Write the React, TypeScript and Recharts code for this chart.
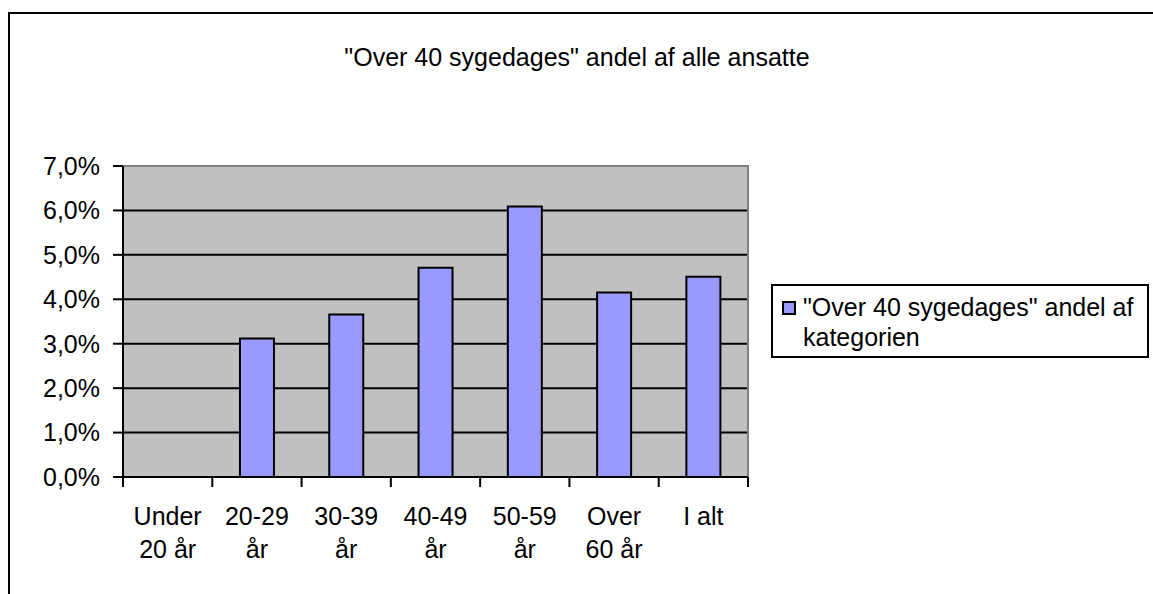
import React from "react";
import { BarChart, Bar, XAxis, YAxis, CartesianGrid, Legend, ReferenceArea } from "recharts";

const TITLE = '"Over 40 sygedages" andel af alle ansatte';
const categories = ["Under\n20 år", "20-29\når", "30-39\når", "40-49\når", "50-59\når", "Over\n60 år", "I alt"];
const seriesName = '"Over 40 sygedages" andel af kategorien';
const legendLines = ['"Over 40 sygedages" andel af', "kategorien"];
const values = [0, 3.12, 3.66, 4.71, 6.09, 4.15, 4.51];
const yTicks = [0, 1, 2, 3, 4, 5, 6, 7];
const gridValues = [1, 2, 3, 4, 5, 6];

const data = categories.map((c, i) => ({ cat: c, v: values[i] }));

const FONT = "'Liberation Sans', Arial, sans-serif";
const FS = 25;
const BAR = "#9999FF";

const fmtPct = (v: number) => `${v.toFixed(1).replace(".", ",")}%`;

const XTick = (props: any) => {
  const { x, y, payload, width, visibleTicksCount, index } = props;
  const band =
    typeof width === "number" && visibleTicksCount ? width / visibleTicksCount : (payload?.offset || 0) * 2;
  const lines = String(payload.value).split("\n");
  return (
    <g>
      <line x1={x - band / 2} x2={x - band / 2} y1={y} y2={y + 10} stroke="#000" strokeWidth={2} />
      {index === visibleTicksCount - 1 && (
        <line x1={x + band / 2} x2={x + band / 2} y1={y} y2={y + 10} stroke="#000" strokeWidth={2} />
      )}
      <text x={x} y={y + 48} textAnchor="middle" fontSize={FS} fontFamily={FONT} fill="#000">
        {lines.map((l, i) => (
          <tspan key={i} x={x} dy={i === 0 ? 0 : 33}>
            {l}
          </tspan>
        ))}
      </text>
    </g>
  );
};

const LegendBox = () => (
  <div
    style={{
      position: "relative",
      boxSizing: "border-box",
      width: 378,
      height: 74,
      border: "2px solid #000",
      background: "#fff",
      fontFamily: FONT,
      fontSize: FS,
      color: "#000",
    }}
  >
    <div
      style={{
        position: "absolute",
        left: 9,
        top: 15,
        width: 14,
        height: 14,
        boxSizing: "border-box",
        background: BAR,
        border: "2px solid #000",
      }}
    />
    <div style={{ position: "absolute", left: 30, top: 6, lineHeight: "30px", whiteSpace: "nowrap" }}>
      {legendLines.map((l, i) => (
        <div key={i}>{l}</div>
      ))}
    </div>
  </div>
);

export default function App() {
  return (
    <div
      style={{
        position: "fixed",
        left: 0,
        top: 0,
        width: 1153,
        height: 594,
        overflow: "hidden",
        background: "#fff",
        fontFamily: FONT,
      }}
    >
      <div
        style={{
          position: "absolute",
          left: 8,
          top: 12,
          width: 1160,
          height: 600,
          boxSizing: "border-box",
          borderLeft: "2px solid #000",
          borderTop: "2px solid #000",
        }}
      />
      <div
        style={{
          position: "absolute",
          left: 277,
          top: 45,
          width: 600,
          textAlign: "center",
          fontSize: FS,
          lineHeight: 1,
          color: "#000",
          whiteSpace: "nowrap",
        }}
      >
        {TITLE}
      </div>
      <div style={{ position: "absolute", left: 8, top: 8 }}>
        <BarChart
          width={1145}
          height={586}
          data={data}
          margin={{ top: 158, right: 405, bottom: 25, left: 0 }}
          barCategoryGap="31%"
        >
          <CartesianGrid
            vertical={false}
            horizontalValues={gridValues}
            fill="#C0C0C0"
            fillOpacity={1}
            stroke="#000"
            strokeWidth={2}
          />
          <ReferenceArea y1={0} y2={7} fill="none" stroke="#808080" strokeWidth={2} ifOverflow="visible" />
          <XAxis
            dataKey="cat"
            type="category"
            height={92}
            interval={0}
            tickLine={false}
            tickSize={0}
            tickMargin={0}
            axisLine={{ stroke: "#000", strokeWidth: 2 }}
            tick={<XTick />}
          />
          <YAxis
            width={115}
            domain={[0, 7]}
            ticks={yTicks}
            interval={0}
            allowDataOverflow
            tickFormatter={fmtPct}
            tickSize={10}
            tickMargin={13}
            tickLine={{ stroke: "#000", strokeWidth: 2 }}
            axisLine={{ stroke: "#000", strokeWidth: 2 }}
            tick={{ fill: "#000", fontSize: FS, fontFamily: FONT }}
          />
          <Bar
            dataKey="v"
            name={seriesName}
            fill={BAR}
            stroke="#000"
            strokeWidth={2}
            isAnimationActive={false}
          />
          <Legend
            layout="horizontal"
            verticalAlign="middle"
            align="center"
            wrapperStyle={{ left: 763, top: 276, width: 378, height: 74 }}
            content={<LegendBox />}
          />
        </BarChart>
      </div>
    </div>
  );
}
